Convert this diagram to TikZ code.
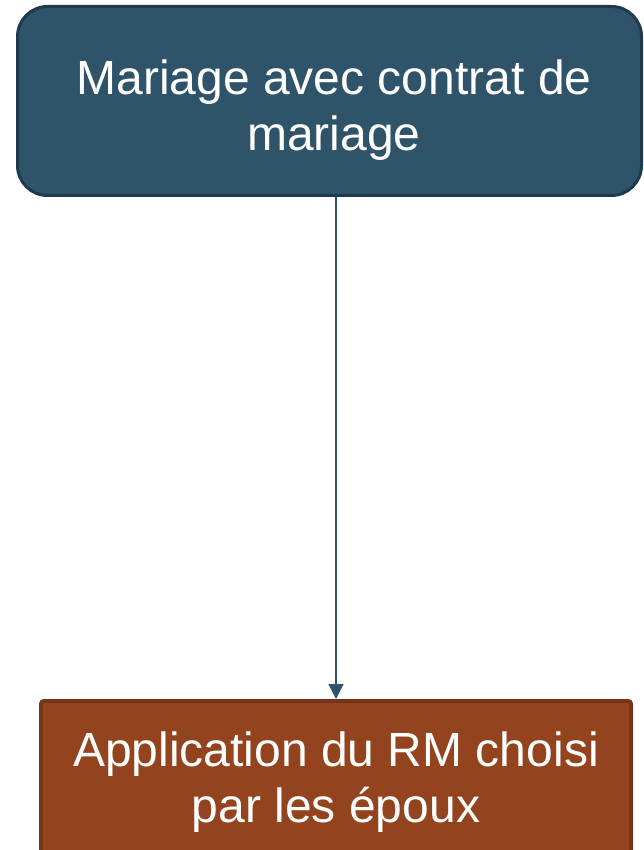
\documentclass[tikz,border=0pt]{standalone}
\usepackage{fontspec}
\setmainfont{Liberation Sans}
\usetikzlibrary{arrows.meta}
\definecolor{topfill}{HTML}{2F5368}
\definecolor{topline}{HTML}{1F3A4C}
\definecolor{botfill}{HTML}{93441E}
\definecolor{botline}{HTML}{76351A}
\tikzset{
  boxtext/.style={text=white, align=center, font=\fontsize{48}{56}\selectfont},
  link/.style={draw=topfill, line width=1.5pt, -{Triangle[length=15pt,width=15pt]}}
}
\begin{document}
\begin{tikzpicture}[x=1pt,y=-1pt]
  \useasboundingbox (0,0) rectangle (643,850);
  \clip (0,0) rectangle (643,850);
  % upper box
  \draw[fill=topfill, draw=topline, line width=3pt, rounded corners=30pt]
    (17.5,6.5) rectangle (641.5,195.5);
  \node[boxtext, anchor=center] (top) at (334,110) {Mariage avec contrat de\\mariage};
  \coordinate (topbase) at (336,197);
  % lower box
  \draw[fill=botfill, draw=botline, line width=4pt, rounded corners=3pt]
    (41,701) rectangle (631,880);
  \node[boxtext, anchor=center] (bot) at (336,782) {Application du RM choisi\\par les époux};
  \coordinate (bottop) at (336,699);
  \draw[link] (topbase) -- (bottop);
\end{tikzpicture}
\end{document}
